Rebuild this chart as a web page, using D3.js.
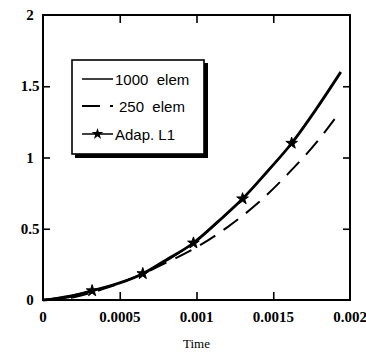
<!DOCTYPE html>
<html>
<head>
<meta charset="utf-8">
<script src="https://cdn.jsdelivr.net/npm/d3@7"></script>
<style>
  body { margin: 0; background: #fff; }
  svg { display: block; }
</style>
</head>
<body>
<div id="vis"></div>
<script>
// values
const fineT   = [0, 0.00016, 0.00032, 0.0005, 0.00065, 0.0008, 0.00098, 0.00114, 0.0013, 0.00146, 0.00162, 0.00178, 0.00194];
const fineY   = [0, 0.02, 0.065, 0.12, 0.185, 0.28, 0.40, 0.55, 0.71, 0.90, 1.10, 1.34, 1.60];
const coarseT = [0, 0.0002, 0.0004, 0.0006, 0.0008, 0.001, 0.0012, 0.0014, 0.0016, 0.0018, 0.0019];
const coarseY = [0, 0.02, 0.08, 0.16, 0.26, 0.37, 0.51, 0.68, 0.89, 1.13, 1.27];
const adapT   = [0, 0.00032, 0.00065, 0.00098, 0.0013, 0.00162];
const adapY   = [0, 0.065, 0.185, 0.40, 0.71, 1.10];
const xTicks  = [0, 0.0005, 0.001, 0.0015, 0.002];
const xLabels = ["0", "0.0005", "0.001", "0.0015", "0.002"];
const yTicks  = [0, 0.5, 1, 1.5, 2];
const yLabels = ["0", "0.5", "1", "1.5", "2"];
const legendLabels = ["1000  elem", "250  elem", "Adap. L1"];

const width = 366, height = 354;
const plot = { left: 43, right: 350, top: 15, bottom: 300 };

const svg = d3.select("#vis").append("svg")
    .attr("width", width)
    .attr("height", height);

const x = d3.scaleLinear().domain([0, 0.002]).range([plot.left, plot.right]);
const y = d3.scaleLinear().domain([0, 2]).range([plot.bottom, plot.top]);

const line = d3.line()
    .x(d => x(d[0]))
    .y(d => y(d[1]))
    .curve(d3.curveMonotoneX);

// curves
svg.append("path")
    .datum(d3.zip(coarseT, coarseY))
    .attr("d", line)
    .attr("fill", "none")
    .attr("stroke", "#000")
    .attr("stroke-width", 2)
    .attr("stroke-dasharray", "18,10");

svg.append("path")
    .datum(d3.zip(fineT, fineY))
    .attr("d", line)
    .attr("fill", "none")
    .attr("stroke", "#000")
    .attr("stroke-width", 2.8);

svg.append("path")
    .datum(d3.zip(adapT, adapY))
    .attr("d", line)
    .attr("fill", "none")
    .attr("stroke", "#000")
    .attr("stroke-width", 1.5);

const star = d3.symbol().type(d3.symbolStar).size(42);
svg.append("g")
    .selectAll("path")
    .data(d3.zip(adapT, adapY).slice(1))
    .join("path")
    .attr("d", star)
    .attr("transform", d => `translate(${x(d[0])},${y(d[1])})`)
    .attr("fill", "#000")
    .attr("stroke", "#000")
    .attr("stroke-width", 1);

// frame with inward ticks on all four sides
svg.append("rect")
    .attr("x", plot.left).attr("y", plot.top)
    .attr("width", plot.right - plot.left).attr("height", plot.bottom - plot.top)
    .attr("fill", "none")
    .attr("stroke", "#000")
    .attr("stroke-width", 2);

const tickIn = 8;
const innerX = xTicks.slice(1, -1), innerY = yTicks.slice(1, -1);
svg.append("g").attr("transform", `translate(0,${plot.bottom})`)
    .call(d3.axisTop(x).tickValues(innerX).tickSize(tickIn).tickFormat(""))
    .call(g => g.select(".domain").remove());
svg.append("g").attr("transform", `translate(0,${plot.top})`)
    .call(d3.axisBottom(x).tickValues(innerX).tickSize(tickIn).tickFormat(""))
    .call(g => g.select(".domain").remove());
svg.append("g").attr("transform", `translate(${plot.left},0)`)
    .call(d3.axisRight(y).tickValues(innerY).tickSize(tickIn - 1).tickFormat(""))
    .call(g => g.select(".domain").remove());
svg.append("g").attr("transform", `translate(${plot.right},0)`)
    .call(d3.axisLeft(y).tickValues(innerY).tickSize(tickIn - 1).tickFormat(""))
    .call(g => g.select(".domain").remove());
svg.selectAll(".tick line").attr("stroke-width", 1.6);

// tick labels
const labelFont = "'Liberation Serif', serif";
svg.append("g").selectAll("text")
    .data(xTicks)
    .join("text")
    .attr("x", d => x(d))
    .attr("y", 322)
    .attr("text-anchor", "middle")
    .style("font-family", labelFont)
    .style("font-weight", "bold")
    .style("font-size", "15px")
    .text((d, i) => xLabels[i]);

svg.append("g").selectAll("text")
    .data(yTicks)
    .join("text")
    .attr("x", 30)
    .attr("y", d => y(d) + 5)
    .attr("text-anchor", "middle")
    .style("font-family", labelFont)
    .style("font-weight", "bold")
    .style("font-size", "15px")
    .text((d, i) => yLabels[i]);

svg.append("text")
    .attr("x", (plot.left + plot.right) / 2)
    .attr("y", 348)
    .attr("text-anchor", "middle")
    .style("font-family", labelFont)
    .style("font-size", "13px")
    .text("Time");

// legend
const lg = svg.append("g");
lg.append("rect")
    .attr("x", 75).attr("y", 63).attr("width", 133).attr("height", 95)
    .attr("fill", "#000");
lg.append("rect")
    .attr("x", 72).attr("y", 60).attr("width", 132).attr("height", 94)
    .attr("fill", "#fff")
    .attr("stroke", "#000")
    .attr("stroke-width", 1.6);

const rows = [80, 107, 135];
const sampleX0 = 82, sampleX1 = 113;
lg.append("line")
    .attr("x1", sampleX0).attr("x2", sampleX1)
    .attr("y1", rows[0] - 1).attr("y2", rows[0] - 1)
    .attr("stroke", "#000").attr("stroke-width", 1.5);
lg.append("line")
    .attr("x1", sampleX0).attr("x2", sampleX0 + 18)
    .attr("y1", rows[1] - 1).attr("y2", rows[1] - 1)
    .attr("stroke", "#000").attr("stroke-width", 2);
lg.append("line")
    .attr("x1", sampleX0 + 28).attr("x2", sampleX0 + 31)
    .attr("y1", rows[1] - 1).attr("y2", rows[1] - 1)
    .attr("stroke", "#000").attr("stroke-width", 2);
lg.append("line")
    .attr("x1", sampleX0).attr("x2", sampleX1)
    .attr("y1", rows[2] - 1).attr("y2", rows[2] - 1)
    .attr("stroke", "#000").attr("stroke-width", 1.5);
lg.append("path")
    .attr("d", star)
    .attr("transform", `translate(${(sampleX0 + sampleX1) / 2},${rows[2] - 1})`)
    .attr("fill", "#000");

lg.selectAll(".legend-label")
    .data(legendLabels)
    .join("text")
    .attr("class", "legend-label")
    .attr("x", (d, i) => i === 1 ? 119 : 115)
    .attr("y", (d, i) => rows[i] + 5)
    .style("font-family", "'Liberation Sans', Arial, sans-serif")
    .style("font-size", "15px")
    .style("white-space", "pre")
    .text(d => d);
</script>
</body>
</html>
